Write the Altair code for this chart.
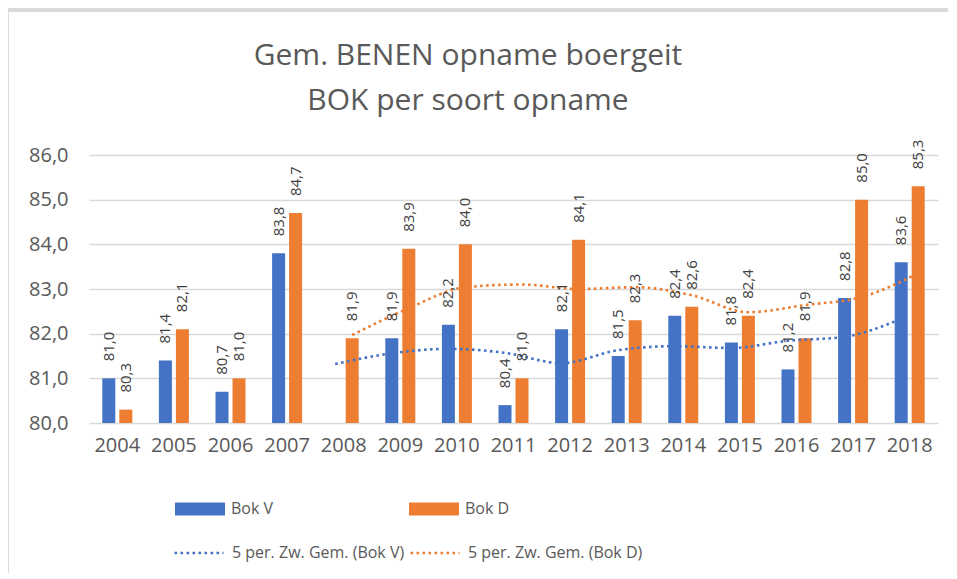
import altair as alt
import pandas as pd

years = [str(y) for y in range(2004, 2019)]
bok_v = [81.0, 81.4, 80.7, 83.8, None, 81.9, 82.2, 80.4, 82.1, 81.5, 82.4, 81.8, 81.2, 82.8, 83.6]
bok_d = [80.3, 82.1, 81.0, 84.7, 81.9, 83.9, 84.0, 81.0, 84.1, 82.3, 82.6, 82.4, 81.9, 85.0, 85.3]

ma_years = years[4:]
ma_v = [81.32, 81.56, 81.66, 81.57, 81.34, 81.63, 81.72, 81.68, 81.84, 81.93, 82.33]
ma_d = [81.97, 82.57, 83.04, 83.10, 83.00, 83.04, 82.86, 82.48, 82.64, 82.82, 83.35]

series_names = ["Bok V", "Bok D"]
trend_names = ["5 per. Zw. Gem. (Bok V)", "5 per. Zw. Gem. (Bok D)"]
colors = ["#4472C4", "#ED7D31"]
y_ticks = [80, 81, 82, 83, 84, 85, 86]
title_lines = ["Gem. BENEN opname boergeit", "BOK per soort opname"]

rows = []
for i, yr in enumerate(years):
    for name, vals in zip(series_names, [bok_v, bok_d]):
        if vals[i] is not None:
            rows.append({"year": yr, "series": name, "value": vals[i]})
bars_df = pd.DataFrame(rows)

trows = []
for name, tname, vals in zip(series_names, trend_names, [ma_v, ma_d]):
    for yr, v in zip(ma_years, vals):
        trows.append({"year": yr, "series": name, "trend": tname, "ma": v})
trend_df = pd.DataFrame(trows)

FONT = "Open Sans"
GRAY = "#595959"

x_enc = alt.X(
    "year:N",
    scale=alt.Scale(domain=years, paddingInner=0.47, paddingOuter=0.235),
    axis=alt.Axis(title=None, labelAngle=0, domain=False, ticks=False, labelPadding=12,
                  labelFontSize=20, labelColor=GRAY, labelFont=FONT),
)
xoff_enc = alt.XOffset("series:N", scale=alt.Scale(domain=series_names, paddingInner=0.235, paddingOuter=0))
y_scale = alt.Scale(domain=[80, 86], nice=False, zero=False)

bars = alt.Chart(bars_df).mark_bar().encode(
    x=x_enc,
    xOffset=xoff_enc,
    y=alt.Y(
        "value:Q",
        scale=y_scale,
        axis=alt.Axis(values=y_ticks, title=None, domain=False, ticks=False, grid=True,
                      gridColor="#D9D9D9", gridWidth=1.5, labelPadding=21,
                      labelExpr="replace(format(datum.value, '.1f'), '.', ',')",
                      labelFontSize=20, labelColor=GRAY, labelFont=FONT),
    ),
    y2=alt.datum(80),
    color=alt.Color(
        "series:N",
        scale=alt.Scale(domain=series_names, range=colors),
        legend=alt.Legend(orient="none", legendX=86, legendY=329, direction="horizontal",
                          columns=2, columnPadding=135, title=None,
                          symbolType="M-1,-0.26H1V0.26H-1Z", symbolSize=2500,
                          symbolStrokeWidth=0, symbolOpacity=1, labelLimit=400,
                          labelFontSize=16, labelColor=GRAY, labelFont=FONT, labelOffset=6),
    ),
)

labels = alt.Chart(bars_df).transform_calculate(
    label="replace(format(datum.value, '.1f'), '.', ',')"
).mark_text(angle=270, align="left", baseline="middle", dx=17, fontSize=15,
            color="#404040", font=FONT).encode(
    x=x_enc,
    xOffset=xoff_enc,
    y=alt.Y("value:Q", scale=y_scale),
    text="label:N",
)

lines = alt.Chart(trend_df).mark_line(strokeWidth=2.6, strokeDash=[2.6, 3.4],
                                      interpolate="monotone").encode(
    x=x_enc,
    xOffset=xoff_enc,
    y=alt.Y("ma:Q", scale=y_scale),
    stroke=alt.Stroke(
        "trend:N",
        scale=alt.Scale(domain=trend_names, range=colors),
        legend=alt.Legend(orient="none", legendX=84, legendY=372, direction="horizontal",
                          columns=2, columnPadding=0, title=None,
                          symbolType="stroke", symbolSize=2401, symbolStrokeWidth=2.6,
                          symbolDash=[2.6, 3.4], labelLimit=400,
                          labelFontSize=16, labelColor=GRAY, labelFont=FONT, labelOffset=7),
    ),
)

border_top = alt.Chart(bars_df).mark_rule(color="#D9D9D9", strokeWidth=2.5).encode(
    x=alt.value(-82), x2=alt.value(880), y=alt.value(-145)
)
border_left = alt.Chart(bars_df).mark_rule(color="#D9D9D9", strokeWidth=2.5).encode(
    x=alt.value(-82), y=alt.value(-146), y2=alt.value(424)
)

title_df = pd.DataFrame({"line": title_lines, "idx": [0, 1]})
title1 = alt.Chart(title_df).transform_filter("datum.idx == 0").mark_text(
    fontSize=30, font=FONT, color=GRAY, align="center", baseline="alphabetic"
).encode(text="line:N", x=alt.value(379), y=alt.value(-90))
title2 = alt.Chart(title_df).transform_filter("datum.idx == 1").mark_text(
    fontSize=30, font=FONT, color=GRAY, align="center", baseline="alphabetic"
).encode(text="line:N", x=alt.value(379), y=alt.value(-45))

chart = alt.layer(border_top, border_left, title1, title2, bars, lines, labels).properties(
    width=849,
    height=268,
    padding={"left": 81, "top": 147, "right": 10, "bottom": 150},
    autosize=alt.AutoSizeParams(type="none"),
).configure_view(stroke=None)

chart.save("out.html", embed_options={"renderer": "svg", "actions": False})
